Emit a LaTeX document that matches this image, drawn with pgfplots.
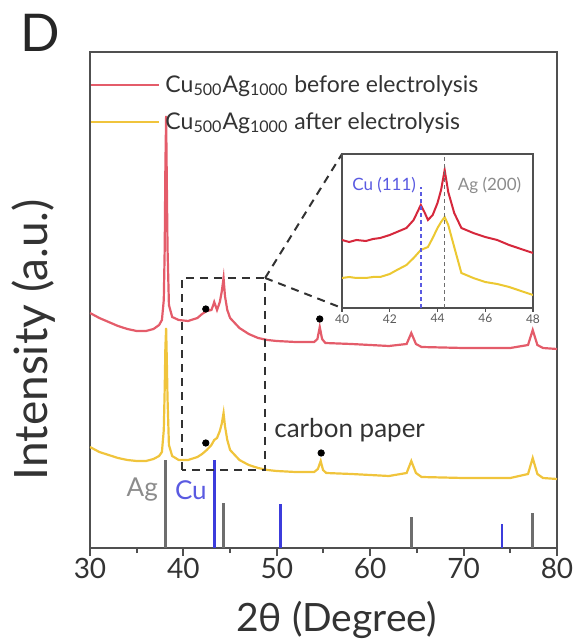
\documentclass[border=0pt]{standalone}
\usepackage{fontspec}
\setmainfont{Lato}
\usepackage{pgfplots}
\pgfplotsset{compat=1.18}
\definecolor{redmain}{RGB}{228,92,106}
\definecolor{yelmain}{RGB}{240,196,60}
\definecolor{redin}{RGB}{214,40,60}
\definecolor{yelin}{RGB}{236,200,50}
\definecolor{aggray}{RGB}{110,110,110}
\definecolor{aglab}{RGB}{140,140,140}
\definecolor{cublue}{RGB}{60,60,220}
\definecolor{culab}{RGB}{90,90,225}
\definecolor{axisgray}{RGB}{80,80,80}
\definecolor{dashc}{RGB}{50,50,50}
\begin{document}
\begin{tikzpicture}
\begin{axis}[
  name=main,
  scale only axis, width=233.5pt, height=248pt,
  xmin=30, xmax=80, ymin=0, ymax=496,
  xtick={30,40,...,80}, minor x tick num=1,
  ytick=\empty, xtick pos=bottom, tick align=outside,
  major tick length=4pt, minor tick length=2.5pt,
  every tick/.style={axisgray, line width=1pt},
  axis line style={axisgray, line width=1.2pt},
  /pgf/number format/assume math mode=true,
  xticklabel style={font=\fontsize{14}{16}\selectfont, text=black!80, inner sep=1pt},
  xlabel={2θ (Degree)},
  xlabel style={at={(axis description cs:0.5,-0.145)}, xshift=6.5pt, anchor=center, font=\fontsize{19.5}{22}\selectfont, text=black!80},
  ylabel={Intensity (a.u.)},
  ylabel style={at={(axis description cs:-0.12,0.42)}, anchor=center, font=\fontsize{23}{25}\selectfont, text=black!80},
  legend style={at={(axis description cs:0,1)}, anchor=north west, draw=none, fill=none,
    font=\fontsize{11.5}{13}\selectfont, row sep=4.5pt, inner xsep=0pt, inner ysep=9.5pt, text=black!80},
  legend cell align=left,
  legend image code/.code={\draw[#1, line width=1pt] (0pt,0pt) -- (34pt,0pt); \path (34.5pt,0pt);},
]
% before electrolysis
\addplot[redmain, line width=1.1pt] coordinates {
(30,235)(31,230)(32,226)(33,222)(34,219)(35,217)(36,217)(36.8,219)(37.4,223)(37.7,228)(37.9,248)(38.0,300)(38.07,380)(38.15,432)(38.22,370)(38.3,300)(38.45,243)(38.8,231)(39.5,228)(40.5,227)(41.5,230)(42.0,234)(42.5,237)(43.0,238)(43.2,243)(43.3,246)(43.45,242)(43.6,238)(43.9,246)(44.1,256)(44.3,270)(44.45,252)(44.7,238)(45,230)(46,220)(47,214)(48,210)(49,208)(50,207)(52,206)(54,206)(54.35,209)(54.6,221)(54.85,209)(55.2,205)(58,204)(62,202)(63.9,204)(64.4,215)(64.9,204)(65.5,201)(70,200)(75,200)(76.9,203)(77.4,218)(77.9,203)(78.5,200)(80,199)
};
\addlegendentry{Cu\textsubscript{500}Ag\textsubscript{1000} before electrolysis}
% after electrolysis
\addplot[yelmain, line width=1.1pt] coordinates {
(30,101)(31,96)(32,93)(33,90)(34,88)(35,87)(36,87)(36.8,89)(37.4,92)(37.7,96)(37.9,118)(38.0,160)(38.07,200)(38.15,220)(38.22,190)(38.3,150)(38.45,103)(38.8,92)(39.5,88)(40.5,88)(41.5,91)(42.0,94)(42.5,98)(43.0,103)(43.3,108)(43.6,110)(43.9,117)(44.1,124)(44.3,135)(44.45,122)(44.7,108)(45,98)(46,88)(47,83)(48,80)(49,78)(50,77)(52,76)(54,76)(54.4,79)(54.7,87)(54.95,78)(55.3,75)(58,74)(62,72)(63.9,75)(64.4,87)(64.9,75)(65.5,71)(70,70)(75,70)(76.9,74)(77.4,90)(77.9,74)(78.5,70)(80,69)
};
\addlegendentry{Cu\textsubscript{500}Ag\textsubscript{1000} after electrolysis}
% asterisks
\addplot[only marks, mark=*, mark size=1.6pt, black, forget plot] coordinates {(42.4,239)(54.6,229)(42.4,105)(54.75,95)};
% reference sticks
\addplot[ycomb, aggray, line width=1.3pt, forget plot] coordinates {(38.1,88)(44.3,45)(64.4,31)(77.4,35)};
\addplot[ycomb, cublue, line width=1.3pt, forget plot] coordinates {(43.3,88)(50.4,44)(74.1,24)};
\node[text=aglab, font=\fontsize{13}{15}\selectfont] at (axis cs:35.6,58) {Ag};
\node[text=culab, font=\fontsize{13}{15}\selectfont] at (axis cs:40.8,58) {Cu};
\node[text=black!80, font=\fontsize{13}{15}\selectfont] at (axis cs:57.8,118) {carbon paper};
% zoom box
\draw[dashc, line width=1pt, dash pattern=on 4pt off 3pt] (axis cs:39.85,78) rectangle (axis cs:48.75,270);
\draw[dashc, line width=1pt, dash pattern=on 4pt off 3pt] (axis cs:48.75,270) -- (axis cs:56.98,394);
\draw[dashc, line width=1pt, dash pattern=on 4pt off 3pt] (axis cs:48.75,270) -- (axis cs:56.98,240);
\end{axis}
\begin{axis}[
  at={(126pt,120pt)}, anchor=south west,
  scale only axis, width=95.5pt, height=77pt,
  xmin=40, xmax=48, ymin=0, ymax=154,
  xtick={40,42,...,48}, ytick=\empty, xtick pos=bottom, tick align=outside,
  major tick length=2pt,
  every tick/.style={axisgray, line width=0.6pt},
  axis line style={axisgray, line width=0.8pt},
  axis background/.style={fill=white},
  /pgf/number format/assume math mode=true,
  xticklabel style={font=\fontsize{6}{7}\selectfont, text=black!65, inner sep=1pt},
]
\addplot[redin, line width=1pt] coordinates {
(40,68)(40.3,66)(40.6,68)(41,67)(41.3,69)(41.6,70)(42,73)(42.3,76)(42.7,80)(43.0,88)(43.2,98)(43.3,103)(43.45,96)(43.6,88)(43.8,93)(44.0,105)(44.15,118)(44.3,138)(44.45,116)(44.7,95)(45,80)(45.5,75)(46,71)(46.5,68)(47,63)(47.5,59)(48,55)
};
\addplot[yelin, line width=1pt] coordinates {
(40,30)(40.3,31)(40.6,30)(41,30)(41.3,31)(41.6,31)(42,34)(42.3,38)(42.7,43)(43.0,50)(43.3,58)(43.6,61)(43.8,70)(44.0,80)(44.15,86)(44.3,91)(44.45,83)(44.7,61)(45,35)(45.5,30)(46,26)(46.5,24)(47,21)(47.5,17)(48,13)
};
\addplot[culab, line width=0.8pt, dash pattern=on 2pt off 1.5pt] coordinates {(43.3,0)(43.3,121)};
\addplot[aggray, line width=0.8pt, dash pattern=on 2pt off 1.5pt] coordinates {(44.3,0)(44.3,154)};
\node[anchor=east, text=culab, font=\fontsize{8.5}{10}\selectfont, inner sep=1pt] at (axis cs:43.2,123) {Cu (111)};
\node[anchor=west, text=aglab, font=\fontsize{8.5}{10}\selectfont, inner sep=1pt] at (axis cs:44.75,123) {Ag (200)};
\end{axis}
\node[font=\fontsize{26}{28}\selectfont, text=black!85] at (-25pt,257.5pt) {D};
\pgfresetboundingbox
\path[use as bounding box] (-45pt,-47pt) rectangle (244pt,274pt);
\end{tikzpicture}
\end{document}
